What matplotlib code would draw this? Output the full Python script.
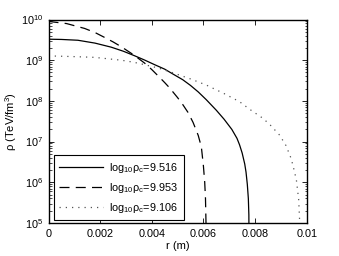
import numpy as np
import matplotlib
matplotlib.use("Agg")
import matplotlib.pyplot as plt

plt.rcParams['font.family'] = ['Liberation Sans', 'DejaVu Sans']
plt.rcParams['mathtext.fontset'] = 'custom'
plt.rcParams['mathtext.rm'] = 'Liberation Sans'
plt.rcParams['mathtext.it'] = 'Liberation Sans:italic'
plt.rcParams['mathtext.bf'] = 'Liberation Sans:bold'

# r in m, log10(rho) in TeV/fm^3
r_a = [0, 0.0005, 0.00114, 0.0018, 0.00243, 0.0029, 0.00333, 0.0037, 0.00411,
       0.0045, 0.00482, 0.0052, 0.0055, 0.0058, 0.00611, 0.0065, 0.0068, 0.0071,
       0.0073, 0.0074, 0.0075, 0.0076, 0.00765, 0.0077, 0.00774, 0.00776, 0.00777]
lr_a = [9.516, 9.51, 9.49, 9.42, 9.32, 9.22, 9.11, 9.01, 8.89,
        8.78, 8.66, 8.52, 8.38, 8.22, 8.03, 7.77, 7.55, 7.30,
        7.08, 6.92, 6.72, 6.45, 6.25, 5.95, 5.60, 5.20, 4.0]

r_b = [0, 0.0007, 0.0014, 0.0018, 0.00217, 0.0025, 0.00282, 0.0033, 0.00372,
       0.0040, 0.0043, 0.0045, 0.00469, 0.0050, 0.0052, 0.0054, 0.0056,
       0.0058, 0.00592, 0.0060, 0.00605, 0.00608, 0.0061, 0.0061]
lr_b = [9.953, 9.90, 9.78, 9.68, 9.56, 9.45, 9.33, 9.13, 8.93,
        8.77, 8.58, 8.45, 8.32, 8.08, 7.91, 7.72, 7.47,
        7.15, 6.87, 6.40, 6.00, 5.60, 5.0, 4.0]

r_c = [0, 0.0009, 0.00178, 0.00282, 0.0033, 0.00372, 0.0043, 0.00482, 0.0055,
       0.00611, 0.0068, 0.0074, 0.0078, 0.00831, 0.0086, 0.00895, 0.0092,
       0.0094, 0.0095, 0.0096, 0.00969, 0.00973, 0.00973]
lr_c = [9.106, 9.09, 9.07, 9.00, 8.95, 8.89, 8.80, 8.69, 8.54,
        8.39, 8.18, 7.98, 7.79, 7.57, 7.40, 7.16, 6.90,
        6.58, 6.33, 6.06, 5.57, 5.0, 4.0]

labels = [r'log$_{10}$ρ$_{\mathrm{c}}$=9.516',
          r'log$_{10}$ρ$_{\mathrm{c}}$=9.953',
          r'log$_{10}$ρ$_{\mathrm{c}}$=9.106']

fig = plt.figure(figsize=(3.39, 2.56), dpi=100)
ax = fig.add_axes([48.5/339, 1-223/256, 258.2/339, 203.5/256])

ax.plot(r_a, 10**np.array(lr_a), color='black', lw=0.9, label=labels[0])
ax.plot(r_b, 10**np.array(lr_b), color='black', lw=0.9, linestyle=(0, (8, 5)), label=labels[1])
ax.plot(r_c, 10**np.array(lr_c), color='#555555', lw=0.9, linestyle=(0, (1, 4)), label=labels[2])

ax.set_yscale('log')
ax.set_xlim(0, 0.01)
ax.set_ylim(1e5, 1e10)
ax.set_xticks([0, 0.002, 0.004, 0.006, 0.008, 0.01])
ax.set_xticklabels(['0', '0.002', '0.004', '0.006', '0.008', '0.01'])
ax.tick_params(which='both', direction='in', top=True, right=True, labelsize=7.8)
ax.tick_params(which='major', length=3.5, width=0.6, pad=4)
ax.tick_params(which='minor', length=1.8, width=0.5)
for s in ax.spines.values():
    s.set_linewidth(1.0)

ax.set_xlabel('r (m)', fontsize=8, labelpad=2)
ax.set_ylabel('ρ (TeV/fm$^3$)', fontsize=8, labelpad=1)

leg = ax.legend(loc='lower left', bbox_to_anchor=(0.021, 0.015), borderaxespad=0,
                fontsize=7.8, handlelength=4.0, labelspacing=0.55, fancybox=False,
                edgecolor='black', framealpha=1, borderpad=0.5, handletextpad=0.6)
leg.get_frame().set_linewidth(0.8)

fig.savefig('out.png', dpi=100)
